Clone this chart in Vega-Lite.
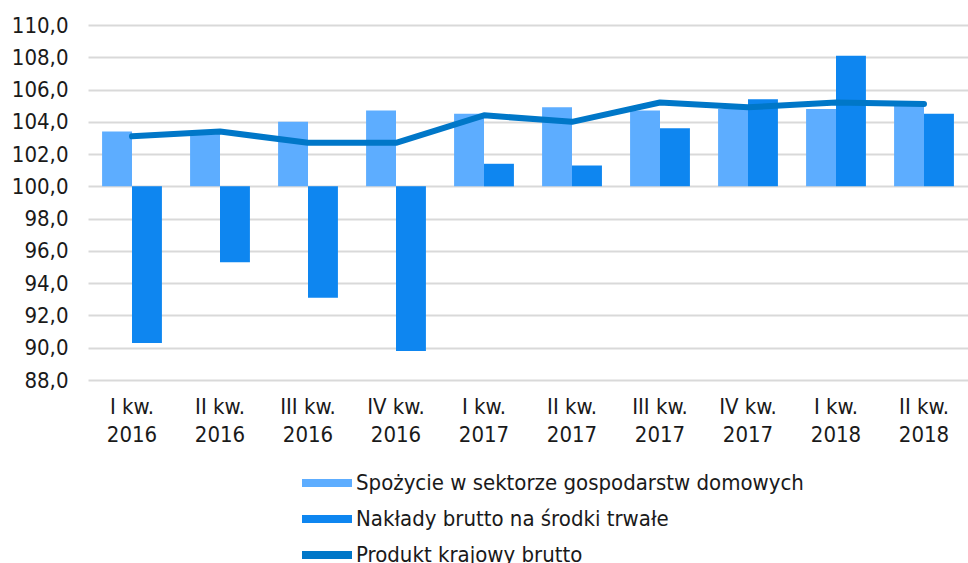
{
  "$schema": "https://vega.github.io/schema/vega-lite/v6.json",
  "autosize": {"type": "none"},
  "padding": {"left": 88, "top": 25, "right": 0, "bottom": 183},
  "width": 880,
  "height": 355,
  "background": "white",
  "config": {
    "view": {"stroke": null},
    "font": "DejaVu Sans Condensed, Roboto, sans-serif",
    "axis": {"labelFont": "DejaVu Sans Condensed, Roboto, sans-serif", "labelColor": "#1a1a1a"},
    "legend": {"labelFont": "DejaVu Sans Condensed, Roboto, sans-serif"}
  },
  "data": {"values": [
    {"q": "I kw. 2016", "s": "Spożycie w sektorze gospodarstw domowych", "v": 103.4},
    {"q": "II kw. 2016", "s": "Spożycie w sektorze gospodarstw domowych", "v": 103.4},
    {"q": "III kw. 2016", "s": "Spożycie w sektorze gospodarstw domowych", "v": 104.0},
    {"q": "IV kw. 2016", "s": "Spożycie w sektorze gospodarstw domowych", "v": 104.7},
    {"q": "I kw. 2017", "s": "Spożycie w sektorze gospodarstw domowych", "v": 104.5},
    {"q": "II kw. 2017", "s": "Spożycie w sektorze gospodarstw domowych", "v": 104.9},
    {"q": "III kw. 2017", "s": "Spożycie w sektorze gospodarstw domowych", "v": 104.7},
    {"q": "IV kw. 2017", "s": "Spożycie w sektorze gospodarstw domowych", "v": 104.8},
    {"q": "I kw. 2018", "s": "Spożycie w sektorze gospodarstw domowych", "v": 104.8},
    {"q": "II kw. 2018", "s": "Spożycie w sektorze gospodarstw domowych", "v": 105.0},
    {"q": "I kw. 2016", "s": "Nakłady brutto na środki trwałe", "v": 90.3},
    {"q": "II kw. 2016", "s": "Nakłady brutto na środki trwałe", "v": 95.3},
    {"q": "III kw. 2016", "s": "Nakłady brutto na środki trwałe", "v": 93.1},
    {"q": "IV kw. 2016", "s": "Nakłady brutto na środki trwałe", "v": 89.8},
    {"q": "I kw. 2017", "s": "Nakłady brutto na środki trwałe", "v": 101.4},
    {"q": "II kw. 2017", "s": "Nakłady brutto na środki trwałe", "v": 101.3},
    {"q": "III kw. 2017", "s": "Nakłady brutto na środki trwałe", "v": 103.6},
    {"q": "IV kw. 2017", "s": "Nakłady brutto na środki trwałe", "v": 105.4},
    {"q": "I kw. 2018", "s": "Nakłady brutto na środki trwałe", "v": 108.1},
    {"q": "II kw. 2018", "s": "Nakłady brutto na środki trwałe", "v": 104.5},
    {"q": "I kw. 2016", "s": "Produkt krajowy brutto", "v": 103.1},
    {"q": "II kw. 2016", "s": "Produkt krajowy brutto", "v": 103.4},
    {"q": "III kw. 2016", "s": "Produkt krajowy brutto", "v": 102.7},
    {"q": "IV kw. 2016", "s": "Produkt krajowy brutto", "v": 102.7},
    {"q": "I kw. 2017", "s": "Produkt krajowy brutto", "v": 104.4},
    {"q": "II kw. 2017", "s": "Produkt krajowy brutto", "v": 104.0},
    {"q": "III kw. 2017", "s": "Produkt krajowy brutto", "v": 105.2},
    {"q": "IV kw. 2017", "s": "Produkt krajowy brutto", "v": 104.9},
    {"q": "I kw. 2018", "s": "Produkt krajowy brutto", "v": 105.2},
    {"q": "II kw. 2018", "s": "Produkt krajowy brutto", "v": 105.1}
  ]},
  "encoding": {
    "x": {
      "field": "q", "type": "nominal", "sort": null,
      "scale": {"paddingInner": 0.32, "paddingOuter": 0.16},
      "axis": {
        "title": null, "labelAngle": 0, "ticks": false, "domain": false, "grid": false,
        "labelFontSize": 22, "labelPadding": 16, "labelLineHeight": 28,
        "labelExpr": "[slice(datum.label, 0, -5), slice(datum.label, -4)]"
      }
    },
    "y": {
      "field": "v", "type": "quantitative",
      "scale": {"domain": [88, 110], "zero": false, "nice": false},
      "axis": {
        "title": null, "values": [88, 90, 92, 94, 96, 98, 100, 102, 104, 106, 108, 110],
        "domain": false, "ticks": false, "gridColor": "#D9D9D9", "gridWidth": 2,
        "labelFontSize": 22, "labelPadding": 20, "labelOverlap": false, "labelBound": false,
        "labelExpr": "replace(format(datum.value, '.1f'), '.', ',')"
      }
    }
  },
  "layer": [
    {
      "transform": [{"filter": "datum.s != 'Produkt krajowy brutto'"}],
      "mark": {"type": "bar", "strokeWidth": 0},
      "encoding": {
        "y2": {"datum": 100},
        "xOffset": {"field": "s", "type": "nominal", "sort": ["Spożycie w sektorze gospodarstw domowych", "Nakłady brutto na środki trwałe"]},
        "color": {
          "field": "s", "type": "nominal",
          "scale": {
            "domain": ["Spożycie w sektorze gospodarstw domowych", "Nakłady brutto na środki trwałe", "Produkt krajowy brutto"],
            "range": ["#5DADFF", "#0E86F0", "#0077C8"]
          },
          "legend": {
            "title": null, "orient": "none", "legendX": 214, "legendY": 433,
            "direction": "vertical", "symbolType": "M-1,-0.16H1V0.16H-1Z",
            "symbolSize": 2500, "symbolStrokeWidth": 0, "labelFontSize": 22,
            "labelOffset": 4, "rowPadding": -14, "labelLimit": 700, "labelColor": "#1a1a1a"
          }
        }
      }
    },
    {
      "transform": [{"filter": "datum.s == 'Produkt krajowy brutto'"}],
      "mark": {"type": "line", "color": "#0077C8", "strokeWidth": 6, "strokeCap": "round", "strokeJoin": "round"},
      "encoding": {}
    }
  ]
}
